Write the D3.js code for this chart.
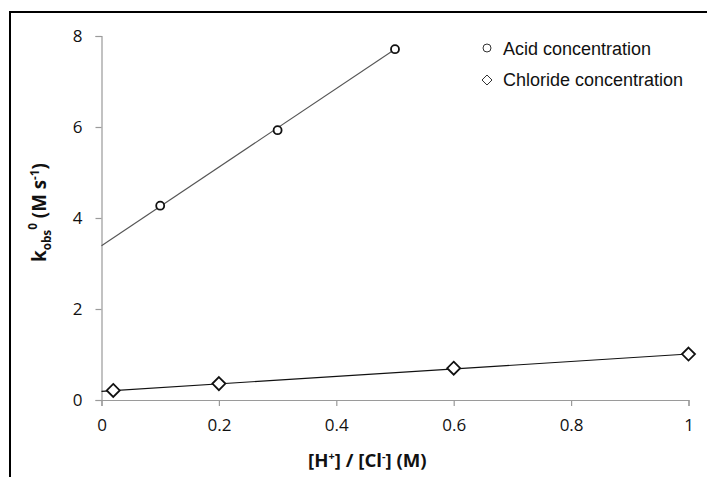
<!DOCTYPE html>
<html>
<head>
<meta charset="utf-8">
<script src="https://cdn.jsdelivr.net/npm/d3@7/dist/d3.min.js"></script>
<style>
  html, body { margin: 0; padding: 0; background: #fff; }
  svg { display: block; }
</style>
</head>
<body>
<svg id="chart" width="707" height="477"></svg>
<script>
// Measured rate constants vs. acid / chloride concentration
const acidConc = [0.1, 0.3, 0.5];
const acidK = [4.27, 5.93, 7.71];
const chlorideConc = [0.02, 0.2, 0.6, 1.0];
const chlorideK = [0.21, 0.36, 0.70, 1.01];

// Linear fits (intercept, slope)
const acidFit = [3.39, 8.64];
const acidFitRange = [0, 0.5];
const chlorideFit = [0.19, 0.82];
const chlorideFitRange = [0, 1];

const xTicks = [0, 0.2, 0.4, 0.6, 0.8, 1];
const yTicks = [0, 2, 4, 6, 8];
const seriesNames = ["Acid concentration", "Chloride concentration"];

const svg = d3.select("#chart");
const tickFont = "Open Sans, sans-serif";

// Outer frame
svg.append("rect")
  .attr("x", 10).attr("y", 12)
  .attr("width", 720).attr("height", 500)
  .attr("fill", "none").attr("stroke", "#000").attr("stroke-width", 2);

const x = d3.scaleLinear().domain([0, 1]).range([101.5, 688.5]);
const y = d3.scaleLinear().domain([0, 8]).range([400, 36]);

// Axes
const xAxis = svg.append("g").attr("transform", `translate(0,${y(0)})`)
  .call(d3.axisBottom(x).tickValues(xTicks).tickFormat(d3.format("")).tickSize(6).tickPadding(13));
const yAxis = svg.append("g").attr("transform", `translate(${x(0)},0)`)
  .call(d3.axisLeft(y).tickValues(yTicks).tickSize(6).tickPadding(13));

[xAxis, yAxis].forEach(g => {
  g.select(".domain").attr("stroke", "#9a9a9a").attr("stroke-width", 1.2);
  g.selectAll(".tick line").attr("stroke", "#9a9a9a").attr("stroke-width", 1.2);
  g.selectAll(".tick text").attr("fill", "#111")
    .style("font-family", tickFont).style("font-size", "17px");
});

// Fit lines
function fitLine(fit, range, color) {
  svg.append("line")
    .attr("x1", x(range[0])).attr("y1", y(fit[0] + fit[1] * range[0]))
    .attr("x2", x(range[1])).attr("y2", y(fit[0] + fit[1] * range[1]))
    .attr("stroke", color).attr("stroke-width", 1.1);
}
fitLine(acidFit, acidFitRange, "#555");
fitLine(chlorideFit, chlorideFitRange, "#111");

// Acid points: open circles
svg.append("g").selectAll("circle")
  .data(acidConc.map((c, i) => [c, acidK[i]]))
  .join("circle")
  .attr("cx", d => x(d[0])).attr("cy", d => y(d[1]))
  .attr("r", 4).attr("fill", "#fff").attr("stroke", "#111").attr("stroke-width", 1.8);

// Chloride points: open diamonds
const diamond = s => `M0,${-s}L${s},0L0,${s}L${-s},0Z`;
svg.append("g").selectAll("path")
  .data(chlorideConc.map((c, i) => [c, chlorideK[i]]))
  .join("path")
  .attr("transform", d => `translate(${x(d[0])},${y(d[1])})`)
  .attr("d", diamond(6.5))
  .attr("fill", "#fff").attr("stroke", "#111").attr("stroke-width", 1.8);

// Legend
const legend = svg.append("g").style("font-family", "Liberation Sans, Arial, sans-serif").style("font-size", "18px");
legend.append("circle").attr("cx", 487).attr("cy", 48).attr("r", 4)
  .attr("fill", "#fff").attr("stroke", "#333").attr("stroke-width", 1);
legend.append("text").attr("x", 503).attr("y", 54.5).attr("fill", "#111").text(seriesNames[0]);
legend.append("path").attr("transform", "translate(487,80)").attr("d", diamond(5))
  .attr("fill", "#fff").attr("stroke", "#333").attr("stroke-width", 1);
legend.append("text").attr("x", 503).attr("y", 86).attr("fill", "#111").text(seriesNames[1]);

// Axis titles: each is scaled so it spans its target length
const xTitleG = svg.append("g");
const xTitle = xTitleG.append("text")
  .style("font-family", tickFont).style("font-size", "17px").style("font-weight", "bold")
  .attr("fill", "#111");
xTitle.append("tspan").text("[H");
xTitle.append("tspan").attr("dy", -6).style("font-size", "10px").text("+");
xTitle.append("tspan").attr("dy", 6).text("] / [Cl");
xTitle.append("tspan").attr("dy", -6).style("font-size", "10px").text("-");
xTitle.append("tspan").attr("dy", 6).text("] (M)");
const xw = xTitle.node().getBBox().width;
xTitleG.attr("transform", `translate(308,467) scale(${119 / xw})`);

const yTitleG = svg.append("g");
const yTitle = yTitleG.append("text")
  .style("font-family", tickFont).style("font-size", "16px").style("font-weight", "bold")
  .attr("fill", "#111");
yTitle.append("tspan").text("k");
yTitle.append("tspan").attr("dy", 4).style("font-size", "10px").text("obs");
yTitle.append("tspan").attr("dy", -12).style("font-size", "10px").text("0");
yTitle.append("tspan").attr("dy", 8).text(" (M s");
yTitle.append("tspan").attr("dy", -6).style("font-size", "10px").text("-1");
yTitle.append("tspan").attr("dy", 6).text(")");
const yw = yTitle.node().getBBox().width;
yTitleG.attr("transform", `translate(46,262) rotate(-90) scale(${99 / yw})`);
</script>
</body>
</html>
